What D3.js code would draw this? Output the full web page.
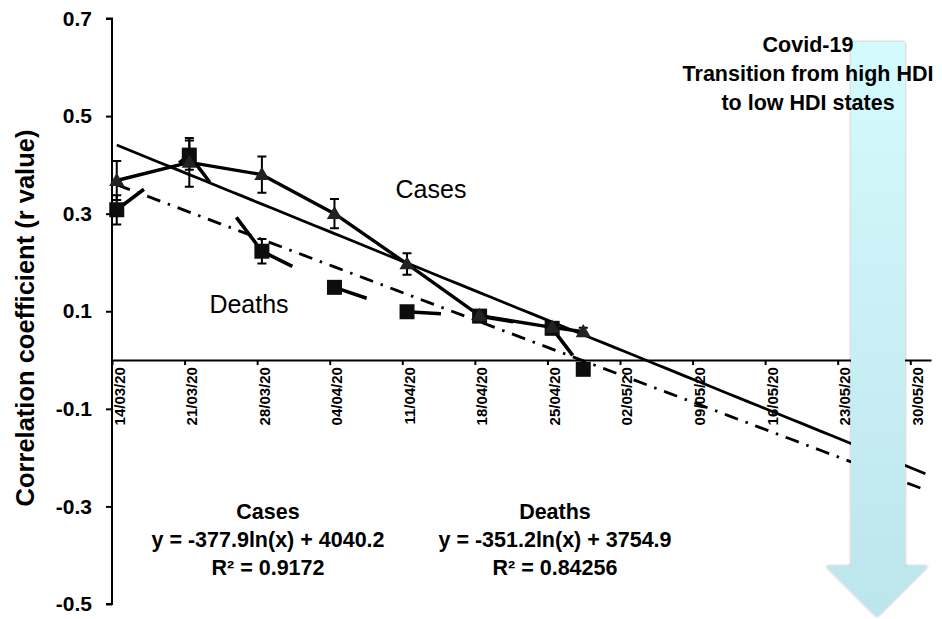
<!DOCTYPE html>
<html>
<head>
<meta charset="utf-8">
<script src="https://cdn.jsdelivr.net/npm/d3@7"></script>
<style>
  html, body { margin: 0; padding: 0; background: #fff; }
  svg { display: block; }
  text { font-family: "Liberation Sans", Arial, sans-serif; }
</style>
</head>
<body>
<script>
// ---------------- data ----------------
const dates      = ["2020-03-14","2020-03-21","2020-03-28","2020-04-04","2020-04-11","2020-04-18","2020-04-25","2020-04-28"];
const casesR     = [0.368, 0.405, 0.380, 0.300, 0.197, 0.091, 0.067, 0.058];
const casesErr   = [0.040, 0.050, 0.037, 0.030, 0.022, 0.010, 0.010, 0.008];
const deathsR    = [0.308, 0.420, 0.223, 0.149, 0.099, 0.090, 0.065, -0.019];
const deathsErr  = [0.030, 0.030, 0.025, 0.010, 0.010, 0.010, 0.010, 0.008];
const yTicks     = [0.7, 0.5, 0.3, 0.1, -0.1, -0.3, -0.5];
const yTickLabels= ["0.7","0.5","0.3","0.1","-0.1","-0.3","-0.5"];
const xTickDates = ["2020-03-14","2020-03-21","2020-03-28","2020-04-04","2020-04-11","2020-04-18","2020-04-25","2020-05-02","2020-05-09","2020-05-16","2020-05-23","2020-05-30"];
const axisStart  = "2020-03-14", axisEnd = "2020-06-01", trendEnd = "2020-05-31";
const titleLines = ["Covid-19", "Transition from high HDI", "to low HDI states"];
const eqCases    = ["Cases", "y = -377.9ln(x) + 4040.2", "R² = 0.9172"];
const eqDeaths   = ["Deaths", "y = -351.2ln(x) + 3754.9", "R² = 0.84256"];

// ---------------- setup ----------------
const W = 942, H = 619;
const parse = d3.timeParse("%Y-%m-%d");
const fmt = d3.timeFormat("%d/%m/%y");
const svg = d3.select("body").append("svg").attr("width", W).attr("height", H);

const defs = svg.append("defs");
const blur = defs.append("filter").attr("id","soft").attr("x","-30%").attr("y","-30%").attr("width","160%").attr("height","160%");
blur.append("feGaussianBlur").attr("stdDeviation", 0.7);
const grad = defs.append("linearGradient").attr("id","arrowGrad").attr("x1",0).attr("y1",0).attr("x2",0).attr("y2",1);
grad.append("stop").attr("offset","0%").attr("stop-color","#d4fbfd");
grad.append("stop").attr("offset","100%").attr("stop-color","#bce5ec");
const sh = defs.append("filter").attr("id","shadow").attr("x","-10%").attr("y","-5%").attr("width","120%").attr("height","110%");
sh.append("feGaussianBlur").attr("in","SourceAlpha").attr("stdDeviation",1.5).attr("result","b");
sh.append("feOffset").attr("in","b").attr("dx",0).attr("dy",0).attr("result","o");
sh.append("feComponentTransfer").attr("in","o").attr("result","o2").append("feFuncA").attr("type","linear").attr("slope",0.35);
const mg = sh.append("feMerge"); mg.append("feMergeNode").attr("in","o2"); mg.append("feMergeNode").attr("in","SourceGraphic");

const x = d3.scaleTime().domain([parse(axisStart), parse(axisEnd)]).range([112, 931]);
const y = d3.scaleLinear().domain([-0.5, 0.7]).range([604, 18.5]);
// points sit mid-day (between tick marks)
const xp = d => x(d3.timeHour.offset(d, 11));

const pts = dates.map((s, i) => ({ d: parse(s), c: casesR[i], ce: casesErr[i], m: deathsR[i], me: deathsErr[i] }));

// ---------------- axes ----------------
const yAxis = svg.append("g").attr("transform", `translate(${x(parse(axisStart))},0)`)
  .call(d3.axisLeft(y).tickValues(yTicks).tickSize(6).tickFormat((d, i) => yTickLabels[i]));
yAxis.select(".domain").attr("stroke","#000").attr("stroke-width",2).attr("d", `M-6,${y(0.7)}H0V${y(-0.5)}H-6`);
yAxis.selectAll(".tick line").attr("stroke","#000").attr("stroke-width",2);
yAxis.selectAll(".tick text").attr("x",-20).attr("font-size",21).attr("font-weight","bold")
  .attr("font-family","'Liberation Sans', Arial, sans-serif").attr("fill","#000");

const xAxis = svg.append("g").attr("transform", `translate(0,${y(0)})`)
  .call(d3.axisBottom(x).tickValues(xTickDates.map(parse)).tickSize(5).tickSizeOuter(0).tickFormat(fmt));
xAxis.select(".domain").attr("stroke","#000").attr("stroke-width",2);
xAxis.selectAll(".tick line").attr("stroke","#000").attr("stroke-width",2);
xAxis.selectAll(".tick text")
  .attr("transform","rotate(-90)").attr("text-anchor","end")
  .attr("x",-7).attr("y",12).attr("dy",0)
  .attr("font-size",15).attr("font-weight","bold")
  .attr("font-family","'Liberation Sans', Arial, sans-serif").attr("fill","#000");

// y axis title
svg.append("text").attr("transform", `translate(34,318) rotate(-90)`).attr("text-anchor","middle")
  .attr("font-size",25.5).attr("font-weight","bold").text("Correlation coefficient (r value)");

// ---------------- trendlines (log fit on date serial numbers) ----------------
const excelEpoch = new Date(1899, 11, 30);
const serial = d => d3.timeDay.count(excelEpoch, d);
function logFit(vals) {
  const X = pts.map(p => Math.log(serial(p.d)));
  const mx = d3.mean(X), my = d3.mean(vals);
  let sxy = 0, sxx = 0;
  X.forEach((xv, i) => { sxy += (xv - mx) * (vals[i] - my); sxx += (xv - mx) ** 2; });
  const a = sxy / sxx, b = my - a * mx;
  return d => a * Math.log(serial(d)) + b;
}
const fitC = logFit(casesR), fitD = logFit(deathsR);
const trendDays = d3.timeDay.range(parse(axisStart), d3.timeDay.offset(parse(trendEnd), 1));
const tline = f => d3.line().x(d => xp(d)).y(d => y(f(d)))(trendDays);

svg.append("path").attr("d", tline(fitC)).attr("fill","none").attr("stroke","#000").attr("stroke-width",2.8);
svg.append("path").attr("d", tline(fitD)).attr("fill","none").attr("stroke","#000").attr("stroke-width",2.8)
  .attr("stroke-dasharray","14,8,2.5,8");

// ---------------- error bars ----------------
function errBars(key, ekey) {
  const g = svg.append("g").attr("stroke","#000").attr("stroke-width",2).attr("fill","none");
  pts.forEach(p => {
    const cx = xp(p.d), t = y(p[key] + p[ekey]), b = y(p[key] - p[ekey]);
    g.append("path").attr("d", `M${cx},${t}V${b}M${cx-4.5},${t}H${cx+4.5}M${cx-4.5},${b}H${cx+4.5}`);
  });
}
errBars("m","me");
errBars("c","ce");

// ---------------- series lines ----------------
// deaths: long dash, pattern restarting on every segment
for (let i = 0; i < pts.length - 1; i++) {
  const seg = d3.line().x(p => xp(p.d)).y(p => y(p.m))([pts[i], pts[i+1]]);
  svg.append("path").attr("d", seg).attr("fill","none").attr("stroke","#000")
    .attr("stroke-width",3.6).attr("stroke-dasharray","34,44");
}
svg.append("path").attr("d", d3.line().x(p => xp(p.d)).y(p => y(p.c))(pts))
  .attr("fill","none").attr("stroke","#000").attr("stroke-width",3.4).attr("stroke-linejoin","round");

// ---------------- markers ----------------
svg.append("g").selectAll("rect").data(pts).join("rect")
  .attr("x", p => xp(p.d) - 7.5).attr("y", p => y(p.m) - 7.5).attr("width",15).attr("height",15)
  .attr("fill","#111").attr("filter","url(#soft)");
const tri = d3.symbol().type(d3.symbolTriangle).size(100);
svg.append("g").selectAll("path").data(pts).join("path")
  .attr("d", tri).attr("transform", p => `translate(${xp(p.d)},${y(p.c) + 1})`)
  .attr("fill","#222").attr("filter","url(#soft)");

// ---------------- series labels ----------------
svg.append("text").attr("x",431).attr("y",198).attr("text-anchor","middle").attr("font-size",25).text("Cases");
svg.append("text").attr("x",249).attr("y",313).attr("text-anchor","middle").attr("font-size",25).text("Deaths");

// ---------------- equations ----------------
function eqBlock(lines, cx) {
  const ys = [519, 547, 575];
  lines.forEach((t, i) => svg.append("text").attr("x", cx).attr("y", ys[i]).attr("text-anchor","middle")
    .attr("font-size",21.5).attr("font-weight","bold").text(t));
}
eqBlock(eqCases, 268);
eqBlock(eqDeaths, 555);

// ---------------- arrow ----------------
const ax0 = 851, ax1 = 905, aTop = 42, aNeck = 566, hx0 = 826, hx1 = 928, tipX = 877, tipY = 617;
svg.append("path")
  .attr("d", `M${ax0},${aTop}H${ax1}V${aNeck}H${hx1}L${tipX},${tipY}L${hx0},${aNeck}H${ax0}Z`)
  .attr("fill","url(#arrowGrad)").attr("filter","url(#shadow)");

// ---------------- title ----------------
const tys = [52, 81, 110];
titleLines.forEach((t, i) => svg.append("text").attr("x", 808).attr("y", tys[i]).attr("text-anchor","middle")
  .attr("font-size",21.5).attr("font-weight","bold").text(t));
</script>
</body>
</html>
